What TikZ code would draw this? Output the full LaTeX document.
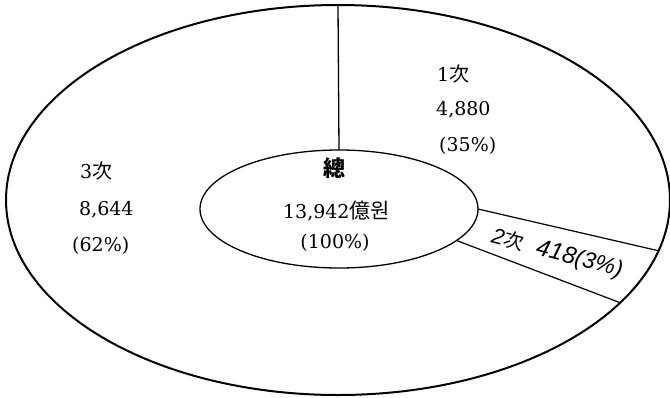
\documentclass[tikz,border=0pt]{standalone}
\usepackage{fontspec}
\usetikzlibrary{shapes.geometric}
\newfontfamily\cjk{Noto Sans CJK KR}
\newfontfamily\mono{DejaVu Serif}
\newfontfamily\sansit{Liberation Sans}
\begin{document}
\begin{tikzpicture}[x=1pt,y=-1pt,
  ring/.style={draw, ellipse, inner sep=0pt, outer sep=0pt},
  lbl/.style={inner sep=0pt, font=\mono\fontsize{19}{19}\selectfont},
  seclbl/.style={inner sep=0pt, rotate=-15, font=\sansit\itshape\fontsize{22}{22}\selectfont}]
\useasboundingbox (0,0) rectangle (670,397);
\node[ring, line width=2pt, minimum width=664pt, minimum height=390pt] (outer) at (338,200) {};
\node[ring, line width=1.3pt, minimum width=278pt, minimum height=118pt] (inner) at (339,209) {};
\draw[line width=1.3pt] (outer.north) -- (inner.north);
\draw[line width=1.2pt] (inner.0) -- (outer.-9);
\draw[line width=1.2pt] (inner.-15) -- (outer.-20.6);
% 1st
\node[lbl, anchor=west] (p1a) at (437,74) {1{\cjk\fontsize{20}{20}\selectfont 次}};
\node[lbl, anchor=west] (p1b) at (436,110) {4,880};
\node[lbl, anchor=west] (p1c) at (439,146) {(35\%)};
% 3rd
\node[lbl, anchor=west] (p3a) at (80,171) {3{\cjk\fontsize{20}{20}\selectfont 次}};
\node[lbl, anchor=west] (p3b) at (79,210) {8,644};
\node[lbl, anchor=west] (p3c) at (72,246) {(62\%)};
% total
\node[lbl, font=\cjk\bfseries\fontsize{22}{22}\selectfont] (t1) at (334,168) {總};
\node[lbl] (t2) at (336.5,211) {13,942{\cjk\fontsize{21}{21}\selectfont 億원}};
\node[lbl] (t3) at (335,243) {(100\%)};
% 2nd
\node[seclbl] (p2) at (557,254) {2{\cjk\fontsize{20}{20}\selectfont 次}\hspace{14pt}{\fontsize{24}{24}\selectfont 418}{\fontsize{23}{23}\selectfont(3\%)}};
\end{tikzpicture}
\end{document}
